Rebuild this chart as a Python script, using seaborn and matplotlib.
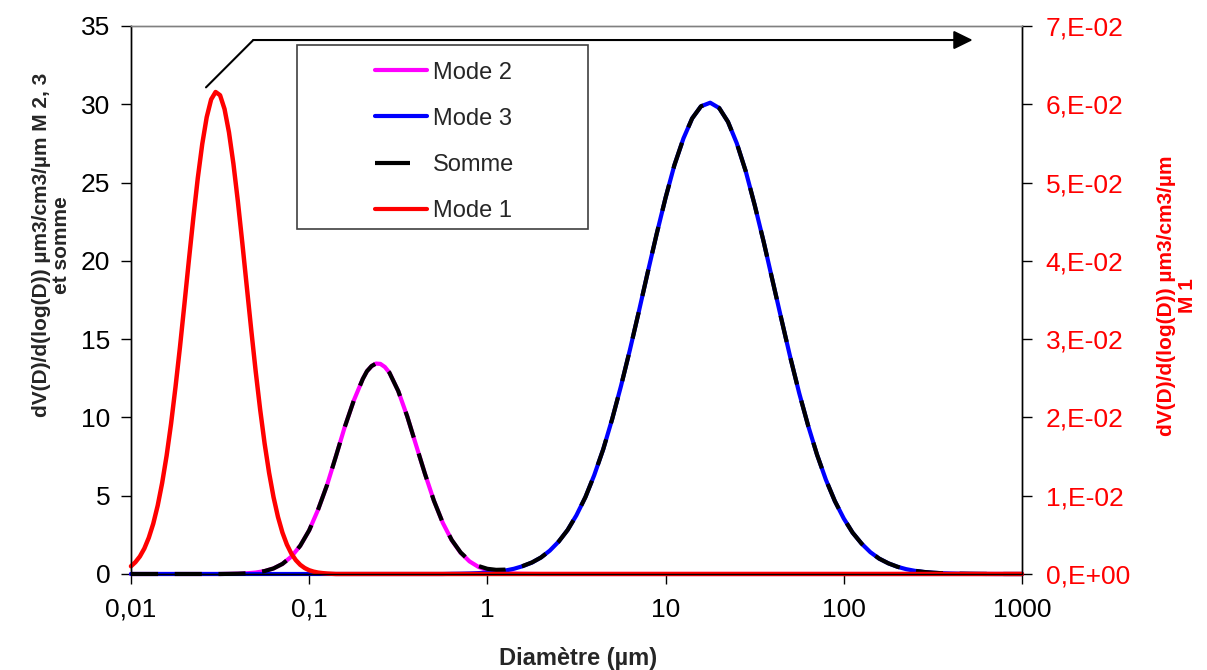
import matplotlib
matplotlib.use("Agg")
import matplotlib.pyplot as plt
import seaborn as sns
import numpy as np
from matplotlib.lines import Line2D
from matplotlib.patches import Rectangle

# diametres (µm), pas de 0.05 decade (plus fin au sommet du mode 2)
diametre = [0.0100, 0.0112, 0.0126, 0.0141, 0.0158, 0.0178, 0.0200, 0.0224, 0.0251, 0.0282,
            0.0316, 0.0355, 0.0398, 0.0447, 0.0501, 0.0562, 0.0631, 0.0708, 0.0794, 0.0891,
            0.100, 0.112, 0.126, 0.141, 0.158, 0.178, 0.200, 0.211, 0.224, 0.237, 0.251, 0.266, 0.282,
            0.316, 0.355, 0.398, 0.447, 0.501, 0.562, 0.631, 0.708, 0.794, 0.891,
            1.00, 1.12, 1.26, 1.41, 1.58, 1.78, 2.00, 2.24, 2.51, 2.82,
            3.16, 3.55, 3.98, 4.47, 5.01, 5.62, 6.31, 7.08, 7.94, 8.91,
            10.0, 11.2, 12.6, 14.1, 15.8, 17.8, 20.0, 22.4, 25.1, 28.2,
            31.6, 35.5, 39.8, 44.7, 50.1, 56.2, 63.1, 70.8, 79.4, 89.1,
            100, 112, 126, 141, 158, 178, 200, 224, 251, 282,
            316, 355, 398, 447, 501, 562, 631, 708, 794, 891,
            1000]

# Mode 2 et Mode 3 (axe de gauche)
mode2 = [0.0] * 11 + [0.008, 0.019, 0.043, 0.092, 0.186, 0.355, 0.644, 1.107, 1.804, 2.787,
                      4.085, 5.680, 7.482, 9.352, 11.08, 12.46, 12.95, 13.28, 13.44, 13.42,
                      13.22, 12.86, 11.69,
                      10.07, 8.233, 6.381, 4.689, 3.268, 2.161, 1.355, 0.805, 0.453, 0.242,
                      0.123, 0.059, 0.027, 0.012, 0.005] + [0.0] * 55

mode3 = [0.0] * 39 + [0.012, 0.020, 0.034, 0.056, 0.090, 0.142, 0.220, 0.334, 0.500, 0.732,
                      1.055, 1.490, 2.064, 2.808, 3.748, 4.911, 6.318, 7.971, 9.873, 12.00,
                      14.32, 16.76, 19.26, 21.71, 24.03, 26.10, 27.82, 29.10, 29.87, 30.10,
                      29.76, 28.88, 27.51, 25.71, 23.58, 21.23, 18.76, 16.26, 13.84, 11.56,
                      9.475, 7.618, 6.017, 4.659, 3.546, 2.645, 1.936, 1.392, 0.982, 0.680,
                      0.462, 0.308, 0.201, 0.129, 0.082, 0.050, 0.031, 0.018, 0.011, 0.006,
                      0.003] + [0.0] * 4

somme = np.array(mode2) + np.array(mode3)

# Mode 1 (axe de droite), pas de 0.025 decade
diametre_m1 = [0.01000, 0.01059, 0.01122, 0.01189, 0.01259, 0.01334, 0.01413, 0.01496, 0.01585, 0.01679,
               0.01778, 0.01884, 0.01995, 0.02113, 0.02239, 0.02371, 0.02512, 0.02661, 0.02818, 0.02985,
               0.03162, 0.03350, 0.03548, 0.03758, 0.03981, 0.04217, 0.04467, 0.04732, 0.05012, 0.05309,
               0.05623, 0.05957, 0.06310, 0.06683, 0.07079, 0.07499, 0.07943, 0.08414, 0.08913, 0.09441,
               0.1000, 0.1059, 0.1122, 0.1189, 0.1259, 0.1413, 1000]
mode1 = [0.00099, 0.00151, 0.00224, 0.00326, 0.00463, 0.00643, 0.00875, 0.01162, 0.01510, 0.01920,
         0.02387, 0.02900, 0.03446, 0.04005, 0.04550, 0.05056, 0.05492, 0.05835, 0.06062, 0.06157,
         0.06116, 0.05940, 0.05642, 0.05240, 0.04759, 0.04226, 0.03670, 0.03116, 0.02587, 0.02100,
         0.01667, 0.01294, 0.00982, 0.00729, 0.00529, 0.00376, 0.00261, 0.00177, 0.00117, 0.00076,
         0.00048, 0.00030, 0.00018, 0.00011, 0.00006, 0.0, 0.0]

x_ticks = [0.01, 0.1, 1, 10, 100, 1000]
x_labels = ['0,01', '0,1', '1', '10', '100', '1000']
y_ticks = [0, 5, 10, 15, 20, 25, 30, 35]
y2_ticks = [0, 0.01, 0.02, 0.03, 0.04, 0.05, 0.06, 0.07]
y2_labels = ['0,E+00', '1,E-02', '2,E-02', '3,E-02', '4,E-02', '5,E-02', '6,E-02', '7,E-02']

sns.set_style('ticks')
plt.rcParams['font.family'] = ['Liberation Sans', 'DejaVu Sans']

fig = plt.figure(figsize=(12.07, 6.70), dpi=100)
ax = fig.add_axes([0.1085, 0.1433, 0.7382, 0.8179])

sns.lineplot(x=diametre, y=mode2, ax=ax, color='#FF00FF', lw=3, clip_on=False)
sns.lineplot(x=diametre, y=mode3, ax=ax, color='#0000FF', lw=3, clip_on=False)
sns.lineplot(x=diametre, y=somme, ax=ax, color='black', lw=3, clip_on=False)
somme_line = ax.lines[-1]
somme_line.set_linestyle((0, (6.5, 4.0)))
somme_line.set_dash_capstyle('butt')

ax2 = ax.twinx()
sns.lineplot(x=diametre_m1, y=mode1, ax=ax2, color='#FF0000', lw=3.2, clip_on=False)

ax.set_xscale('log')
ax.set_xlim(0.01, 1000)
ax.set_xticks(x_ticks, labels=x_labels)
ax.minorticks_off()
ax.set_ylim(0, 35)
ax.set_yticks(y_ticks, labels=[str(v) for v in y_ticks])
ax2.set_ylim(0, 0.07)
ax2.set_yticks(y2_ticks, labels=y2_labels)
ax2.minorticks_off()

ax.tick_params(axis='both', direction='out', length=7, width=1, labelsize=19, colors='black')
ax.tick_params(axis='x', pad=10)
ax.tick_params(axis='y', pad=8)
ax2.tick_params(axis='y', direction='out', length=7, width=1, labelsize=19,
                labelcolor='#FF0000', color='black', pad=10)

for a in (ax, ax2):
    for s in ('left', 'bottom', 'right'):
        a.spines[s].set_color('black')
        a.spines[s].set_linewidth(1.0)
    a.spines['top'].set_color('#808080')
    a.spines['top'].set_linewidth(1.0)

ax.set_xlabel('Diamètre (µm)', fontsize=17, fontweight='bold')
ax.xaxis.set_label_coords(0.502, -0.133)
ax.set_ylabel('dV(D)/d(log(D)) µm3/cm3/µm M 2, 3\net somme', fontsize=15,
              fontweight='bold', linespacing=1.05)
ax.yaxis.set_label_coords(-0.0673, 0.60)
ax2.set_ylabel('dV(D)/d(log(D)) µm3/cm3/µm\nM 1', fontsize=15, fontweight='bold',
               color='#FF0000', linespacing=1.15)
ax2.yaxis.set_label_coords(1.1515, 0.508)

# fleche : mode 1 -> axe de droite
ax2.plot([0.0842, 0.1373], [0.888, 0.9744], transform=ax2.transAxes, color='black', lw=1.5)
ax2.annotate('', xy=(0.9447, 0.9744), xytext=(0.1373, 0.9744), xycoords='axes fraction',
             arrowprops=dict(arrowstyle='-|>,head_length=0.55,head_width=0.27', color='black',
                             lw=1.5, mutation_scale=21, shrinkA=0, shrinkB=0))

# legende
ax2.add_patch(Rectangle((0.1869, 0.6289), 0.3266, 0.3364, transform=ax2.transAxes,
                        facecolor='white', edgecolor='#404040', lw=1.2, zorder=4))
handles = [Line2D([], [], color='#FF00FF', lw=3),
           Line2D([], [], color='#0000FF', lw=3),
           Line2D([], [], color='black', lw=3, linestyle=(0, (8.4, 10)), dash_capstyle='butt'),
           Line2D([], [], color='#FF0000', lw=3)]
leg = ax2.legend(handles, ['Mode 2', 'Mode 3', 'Somme', 'Mode 1'], loc='upper left',
                 bbox_to_anchor=(0.2738, 0.935), frameon=False, fontsize=17,
                 handlelength=2.2, handletextpad=0.25, labelspacing=1.02,
                 borderpad=0, borderaxespad=0)
leg.set_zorder(5)

fig.savefig('out.png', dpi=100)
